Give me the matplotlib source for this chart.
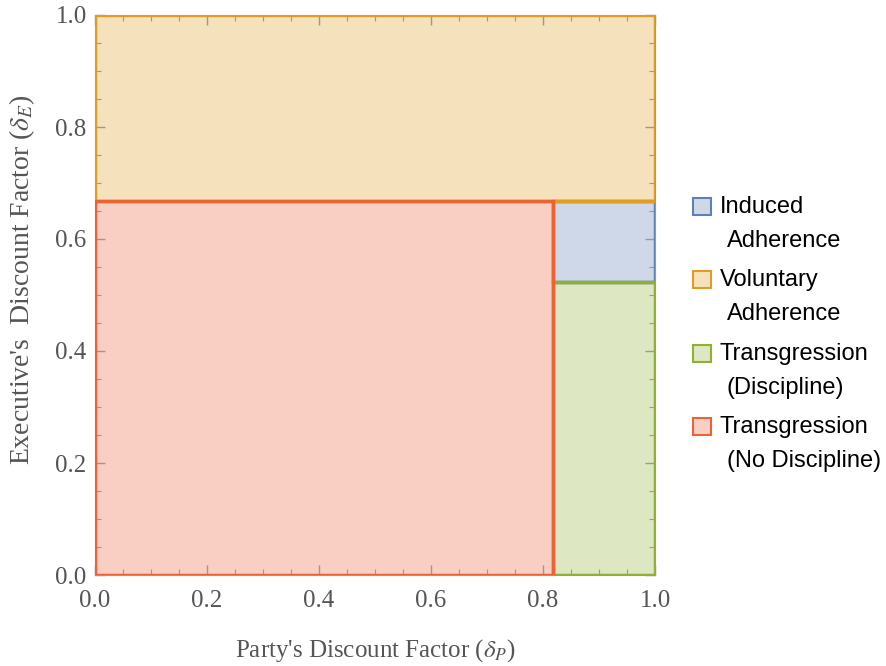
import matplotlib
matplotlib.use("Agg")
import matplotlib.pyplot as plt
from matplotlib.patches import Rectangle
from matplotlib.ticker import MultipleLocator, FormatStrFormatter

# Region boundaries
dp_cut = 0.818      # party discount factor threshold
de_high = 0.667     # executive threshold: voluntary adherence above
de_low = 0.524      # executive threshold: discipline below

# legend label lines, (x0, x1, y0, y1), edge colour
regions = [
    (("Induced", "Adherence"), (dp_cut, 1.0, de_low, de_high), "#5E81B5"),
    (("Voluntary", "Adherence"), (0.0, 1.0, de_high, 1.0), "#E19C24"),
    (("Transgression", "(Discipline)"), (dp_cut, 1.0, 0.0, de_low), "#8FB032"),
    (("Transgression", "(No Discipline)"), (0.0, dp_cut, 0.0, de_high), "#EB6235"),
]
draw_order = [1, 2, 0, 3]

plt.rcParams["mathtext.fontset"] = "stix"

W, H = 887, 666
fig = plt.figure(figsize=(W / 100, H / 100), dpi=100)
ax = fig.add_axes([95 / W, 1 - 575 / H, 560 / W, 560 / H])

for i in draw_order:
    _, (x0, x1, y0, y1), col = regions[i]
    ax.add_patch(Rectangle((x0, y0), x1 - x0, y1 - y0, facecolor=col, alpha=0.3,
                           edgecolor="none", zorder=1))
    ax.add_patch(Rectangle((x0, y0), x1 - x0, y1 - y0, facecolor="none",
                           edgecolor=col, lw=2.5, zorder=2 + i))

ax.set_xlim(0, 1)
ax.set_ylim(0, 1)
for s in ax.spines.values():
    s.set_color("#999999")
    s.set_zorder(0)

for axis in (ax.xaxis, ax.yaxis):
    axis.set_major_locator(MultipleLocator(0.2))
    axis.set_minor_locator(MultipleLocator(0.05))
    axis.set_major_formatter(FormatStrFormatter("%.1f"))
ax.tick_params(which="both", direction="in", top=True, right=True, color="#999999")
ax.tick_params(which="major", length=7, width=1, labelsize=18, labelcolor="#555555")
ax.tick_params(axis="x", which="major", pad=11)
ax.tick_params(axis="y", which="major", pad=6)
ax.tick_params(which="minor", length=4, width=0.8)
for lab in ax.get_xticklabels() + ax.get_yticklabels():
    lab.set_family("Liberation Serif")

ax.set_xlabel("Party's Discount Factor ($\\delta_P$)", family="Liberation Serif",
              fontsize=18, color="#555555", labelpad=18)
ax.set_ylabel("Executive's  Discount Factor ($\\delta_E$)", family="Liberation Serif",
              fontsize=20, color="#555555")
ax.yaxis.set_label_coords(-(95 - 37) / 560, (575 - 280) / 560)

# legend drawn by hand so the swatch sits next to the first line
for k, ((line1, line2), _, col) in enumerate(regions):
    base = 213 + 73.3 * k
    fig.add_artist(Rectangle((693 / W, 1 - 215 / H - 73.3 * k / H), 18 / W, 17 / H,
                             transform=fig.transFigure,
                             facecolor=matplotlib.colors.to_rgba(col, 0.3),
                             edgecolor=col, lw=1.5))
    fig.text(720 / W, 1 - base / H, line1, family="Liberation Sans", fontsize=17,
             va="baseline", ha="left")
    fig.text(727 / W, 1 - (base + 34) / H, line2, family="Liberation Sans", fontsize=17,
             va="baseline", ha="left")

fig.savefig("out.png", dpi=100)
